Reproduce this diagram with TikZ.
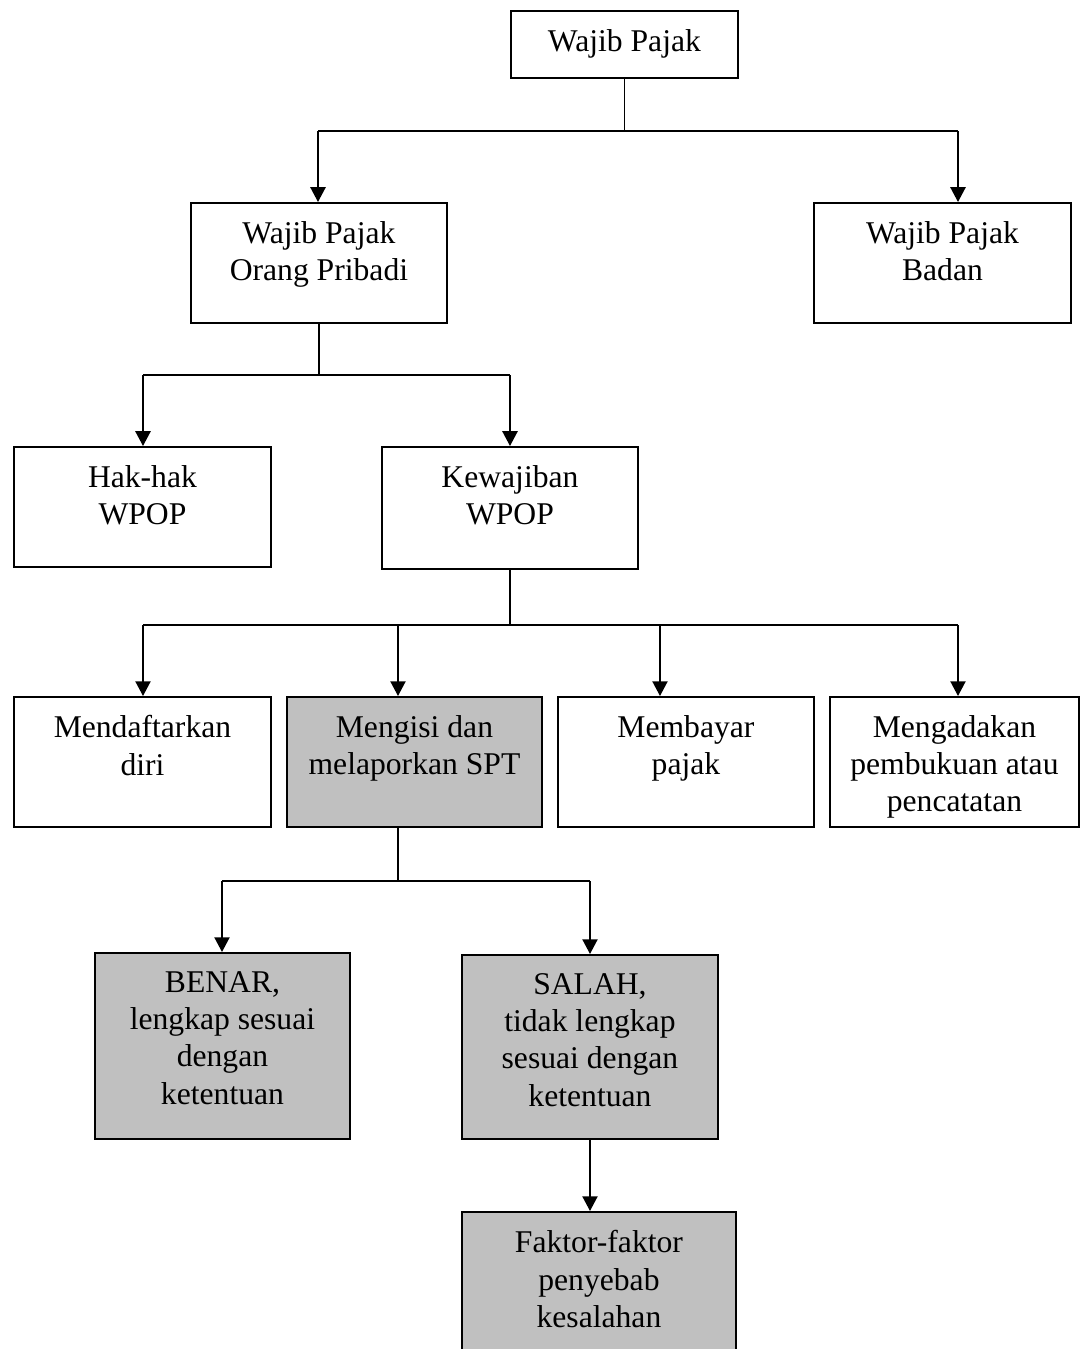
\documentclass[tikz,border=0pt]{standalone}
\usepackage{fontspec}
\setmainfont{Liberation Serif}
\usetikzlibrary{arrows.meta}
\definecolor{boxgrey}{RGB}{192,192,192}
\newcommand{\celltext}[3]{\parbox[t][#2][t]{#1}{\centering\vspace*{1.85mm}#3}}

\begin{document}
\begin{tikzpicture}[x=0.1mm,y=-0.1mm]
        \tikzstyle{box} = [rectangle, draw, line width=0.55pt, inner sep=0pt, anchor=north west, font=\fontsize{9}{10.6}\selectfont]
        \tikzstyle{shaded} = [fill=boxgrey]
        \tikzstyle{arr} = [-{Triangle[width=4.3pt,length=4.2pt]}, line width=0.55pt]
        \useasboundingbox (0,0) rectangle (1080,1349);

        \node[box] (wp) at (510,10) {\celltext{22.7mm}{6.7mm}{Wajib Pajak}};
        \node[box] (wpop) at (190,202) {\celltext{25.6mm}{12mm}{Wajib Pajak\\Orang Pribadi}};
        \node[box] (wpb) at (813,202) {\celltext{25.7mm}{12mm}{Wajib Pajak\\Badan}};
        \node[box] (hak) at (13,446) {\celltext{25.7mm}{12mm}{Hak-hak\\WPOP}};
        \node[box] (kew) at (381,446) {\celltext{25.6mm}{12.2mm}{Kewajiban\\WPOP}};
        \node[box] (daftar) at (13,696) {\celltext{25.7mm}{13mm}{Mendaftarkan\\diri}};
        \node[box,shaded] (isi) at (286,696) {\celltext{25.5mm}{13mm}{Mengisi dan\\melaporkan SPT}};
        \node[box] (bayar) at (557,696) {\celltext{25.6mm}{13mm}{Membayar\\pajak}};
        \node[box] (buku) at (829,696) {\celltext{24.9mm}{13mm}{Mengadakan\\pembukuan atau\\pencatatan}};
        \node[box,shaded] (benar) at (94,952) {\celltext{25.5mm}{18.6mm}{BENAR,\\lengkap sesuai\\dengan\\ketentuan}};
        \node[box,shaded] (salah) at (461,954) {\celltext{25.6mm}{18.4mm}{SALAH,\\tidak lengkap\\sesuai dengan\\ketentuan}};
        \node[box,shaded] (faktor) at (461,1211) {\celltext{27.4mm}{14.6mm}{Faktor-faktor\\penyebab\\kesalahan}};

        % branch points
        \coordinate (a1) at (318,131); \coordinate (a2) at (958,131);
        \coordinate (b1) at (143,375); \coordinate (b2) at (510,375);
        \coordinate (c1) at (143,625); \coordinate (c2) at (398,625);
        \coordinate (c3) at (660,625); \coordinate (c4) at (958,625);
        \coordinate (d1) at (222,881); \coordinate (d2) at (590,881);

        \draw[line width=0.55pt] (wp.south) -- (wp.south |- a1);
        \draw[line width=0.55pt] (wpop.south) -- (wpop.south |- b1);
        \draw[line width=0.55pt] (kew.south) -- (kew.south |- c1);
        \draw[line width=0.55pt] (c2 |- isi.south) -- (c2 |- d1);
        \foreach \from/\to in {a1/a2, b1/b2, c1/c4, d1/d2}
            \draw[line width=0.55pt] (\from) -- (\to);

        \foreach \from/\to in {a1/wpop, a2/wpb, b1/hak, b2/kew, c1/daftar, c2/isi, c3/bayar, c4/buku, d1/benar, d2/salah}
            \draw[arr] (\from) -- (\from |- \to.north);
        \draw[arr] (d2 |- salah.south) -- (d2 |- faktor.north);
\end{tikzpicture}
\end{document}
